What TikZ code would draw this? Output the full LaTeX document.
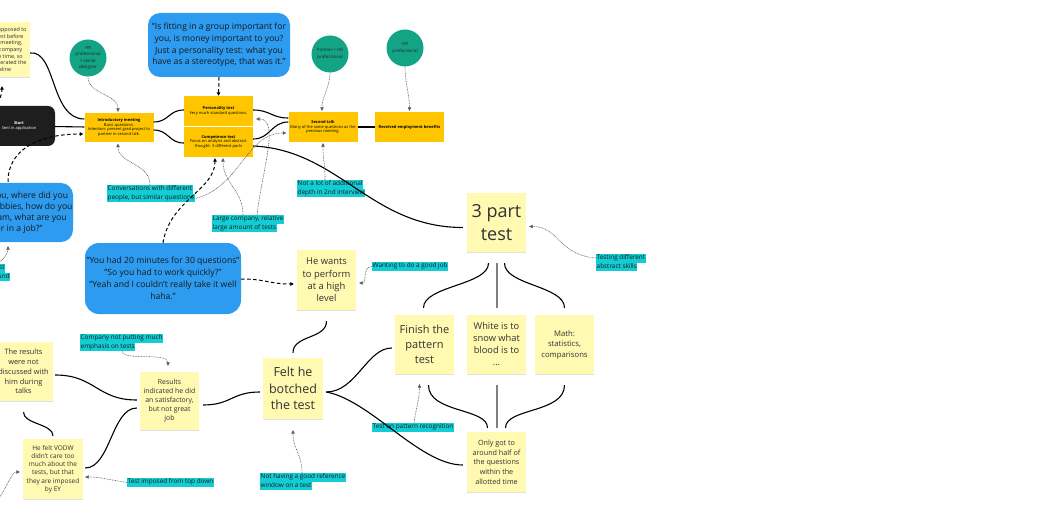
\documentclass[tikz,border=0pt]{standalone}
\usepackage{fontspec}
\setmainfont{Open Sans}
\usetikzlibrary{arrows.meta,calc,shadows}
\definecolor{notey}{RGB}{255,249,177}
\definecolor{notetext}{RGB}{50,50,50}
\definecolor{orangeb}{RGB}{255,198,0}
\definecolor{tealc}{RGB}{18,164,132}
\definecolor{blueb}{RGB}{45,155,240}
\definecolor{labcyan}{RGB}{18,205,212}
\definecolor{startc}{RGB}{30,30,30}
\definecolor{dotgray}{RGB}{90,90,90}
\definecolor{vgray}{RGB}{128,128,128}
\newcommand\fsz[2]{\fontsize{#1}{#2}\selectfont}
\newcommand\hl[1]{\colorbox{labcyan}{\strut #1}}
\newcommand\hltwo[2]{\vbox{\baselineskip=0pt\lineskip=0pt\lineskiplimit=0pt\hbox{\hl{#1}}\hbox{\hl{#2}}}}
\setlength{\fboxsep}{0.5pt}
\tikzset{
  sticky/.style={fill=notey, minimum width=59, minimum height=59, inner sep=0pt, align=center, text=notetext,
    drop shadow={shadow xshift=0.4pt, shadow yshift=-1.2pt, fill=black, opacity=0.12}},
  obox/.style={fill=orangeb, minimum width=69, minimum height=30, inner sep=0pt, align=center, text=black, font=\fsz{4.0}{4.8}},
  greenc/.style={circle, fill=tealc, minimum size=37, inner sep=0pt, align=center, text=black!85, font=\fsz{4.4}{6.5}},
  bubble/.style={rounded corners=12, fill=blueb, inner sep=0pt, align=center, text=black!90},
  lab/.style={anchor=north west, inner sep=0pt, text=black!90, font=\fsz{6.4}{7.5}},
  arr/.style={-{Triangle[length=3.5pt,width=3.5pt]}},
  solc/.style={draw=black, line width=1.1pt},
  grayc/.style={draw=vgray, line width=2pt},
  dashc/.style={draw=black, line width=1pt, dash pattern=on 3.5pt off 2.5pt, arr},
  dotc/.style={draw=dotgray, line width=0.6pt, dash pattern=on 0.8pt off 0.8pt, arr},
}
\begin{document}
\begin{tikzpicture}[x=1pt,y=-1pt]
\useasboundingbox (0,0) rectangle (1054,505);
% ---------- nodes ----------
\node[sticky, minimum width=58, minimum height=55, font=\fsz{5.4}{6.7}] (notetl) at (1,49.5)
  {He was supposed to\\do the test before\\the first meeting,\\but the company\\had little time, so\\they accelerated the\\timeline};
\node[rounded corners=7, fill=startc, minimum width=72, minimum height=40, inner sep=0pt, align=center, text=white, font=\fsz{4.0}{5.6}] (start) at (19,126)
  {\textbf{Start}\\Sent in application};
\node[obox, minimum height=29] (intro) at (119,127.5)
  {\textbf{Introductory meeting}\\Basic questions.\\Intention: present grad project to\\partner in second talk.};
\node[greenc] (hrA) at (88,58) {HR\\professional\\+ senior\\designer};
\node[bubble, minimum width=142, minimum height=64, font=\fsz{8.6}{11.6}] (qtop) at (219,45)
  {"Is fitting in a group important for\\you, is money important to you?\\Just a personality test: what you\\have as a stereotype, that was it."};
\node[obox] (pers) at (218.5,111) {\textbf{Personality test}\\Very much standard questions.};
\node[obox] (comp) at (218.5,142) {\textbf{Competence test}\\Focus on analysis and abstract\\thought: 3 different parts};
\node[greenc] (hrB) at (330,54) {Partner + HR\\professional};
\node[obox] (second) at (323,127) {\textbf{Second talk}\\Many of the same questions as the\\previous meeting.};
\node[greenc] (hrC) at (405,48) {HR\\professional};
\node[obox] (received) at (409.5,127) {\textbf{Received employment benefits}};
\node[bubble, minimum width=142, minimum height=59, font=\fsz{8.6}{11}] (qleft) at (2,212.5)
  {"Tell us about you, where did you\\what are your hobbies, how do you\\function in a team, what are you\\looking for in a job?"};
\node[bubble, rounded corners=14, minimum width=156, minimum height=71, font=\fsz{8.6}{12}] (qmid) at (163,278.5)
  {"You had 20 minutes for 30 questions"\\"So you had to work quickly?"\\"Yeah and I couldn't really take it well\\haha."};
\node[sticky, font=\fsz{18}{23}] (three) at (496.5,222.5) {3 part\\test};
\node[sticky, minimum height=60, font=\fsz{9.4}{12.3}] (heWants) at (326.5,280) {He wants\\to perform\\at a high\\level};
\node[sticky, font=\fsz{11}{15}] (finish) at (424.5,344.5) {Finish the\\pattern\\test};
\node[sticky, font=\fsz{9.3}{12}] (white) at (496.5,344.5) {White is to\\snow what\\blood is to\\...};
\node[sticky, font=\fsz{7.7}{10.5}] (math) at (564.5,344.5) {Math:\\statistics,\\comparisons};
\node[sticky, minimum height=60, font=\fsz{7.2}{9.7}] (onlyGot) at (496.5,462) {Only got to\\around half of\\the questions\\within the\\allotted time};
\node[sticky, minimum width=60, minimum height=61, font=\fsz{12.5}{16.5}] (felt) at (293,388.5) {Felt he\\botched\\the test};
\node[sticky, minimum height=58, font=\fsz{6.9}{9.1}] (results) at (169.5,401) {Results\\indicated he did\\an satisfactory,\\but not great\\job};
\node[sticky, font=\fsz{7.4}{9.8}] (theResults) at (23.5,371.5) {The results\\were not\\discussed with\\him during\\talks};
\node[sticky, minimum width=60, minimum height=60, font=\fsz{6.5}{8.2}] (heFelt) at (53,469) {He felt VODW\\didn't care too\\much about the\\tests, but that\\they are imposed\\by EY};
% labels
\node[lab] (lconv) at (107,185) {\hltwo{Conversations with different}{people, but similar questions}};
\node[lab] (llarge) at (212,215) {\hltwo{Large company, relative}{large amount of tests}};
\node[lab] (lnotalot) at (297,180) {\hltwo{Not a lot of additional}{depth in 2nd interview}};
\node[lab] (lwant) at (372,262) {\hl{Wanting to do a good job}};
\node[lab] (ltest) at (596,254) {\hltwo{Testing different}{abstract skills}};
\node[lab] (lcompany) at (80,334) {\hltwo{Company not putting much}{emphasis on tests}};
\node[lab] (ltestOn) at (372,423) {\hl{Test on pattern recognition}};
\node[lab] (lnothaving) at (260,473) {\hltwo{Not having a good reference}{window on a test}};
\node[lab] (limposed) at (127,478) {\hl{Test imposed from top down}};
\node[lab] (lfrag) at (-44,264) {\hltwo{General interest}{in his background}};
\coordinate (tlfrom) at (-6,108);
\coordinate (blfrom) at (-2,500);
% ---------- solid connectors ----------
\draw[solc] ($(notetl.east)+(0,3.5)$) .. controls +(26,-3) and +(-34,0) .. ($(intro.west)+(0,-8.5)$);
\draw[solc] (start) -- (intro);
\draw[solc] ($(intro.east)+(0,-5.5)$) .. controls +(15,0) and +(-15,0) .. ($(pers.west)+(0,-1)$);
\draw[solc] ($(intro.east)+(0,2.5)$) .. controls +(15,0) and +(-15,0) .. ($(comp.west)+(0,1)$);
\draw[solc] ($(pers.east)+(0,-1)$) .. controls +(17,0) and +(-17,0) .. ($(second.west)+(0,-9)$);
\draw[solc] ($(comp.east)+(0,-3)$) .. controls +(17,0) and +(-17,0) .. ($(second.west)+(0,-5)$);
\draw[solc] ($(comp.east)+(0,4)$) .. controls +(86,4) and +(-92,0) .. ($(three.west)+(-4,5)$);
\draw[solc] (second) -- (received);
\draw[solc] ($(three.south)+(-8,11)$) .. controls +(0,22) and +(0,-22) .. ($(finish.north)+(-1,-7)$);
\draw[grayc] ($(three.south)+(0,11)$) -- ($(white.north)+(0,-7)$);
\draw[solc] ($(three.south)+(8,11)$) .. controls +(0,22) and +(0,-22) .. ($(math.north)+(0,-7)$);
\draw[solc] ($(finish.south)+(4,11)$) .. controls +(0,28) and +(0,-20) .. ($(onlyGot.north)+(-9,-4)$);
\draw[grayc] ($(white.south)+(0,11)$) -- ($(onlyGot.north)+(0,-4)$);
\draw[solc] ($(math.south)+(0,11)$) .. controls +(0,28) and +(0,-20) .. ($(onlyGot.north)+(9,-4)$);
\draw[solc] ($(heWants.south)+(0,11)$) .. controls +(0,18) and +(0,-18) .. ($(felt.north)+(0,-5)$);
\draw[solc] ($(felt.east)+(3,3.5)$) .. controls +(30,0) and +(-25,0) .. ($(finish.west)+(-3,3.5)$);
\draw[solc] ($(felt.east)+(3,3.5)$) .. controls +(44,8) and +(-43,0) .. ($(onlyGot.west)+(-4,3)$);
\draw[solc] ($(results.east)+(4,4)$) .. controls +(28,0) and +(-28,0) .. ($(felt.west)+(-3,3.5)$);
\draw[solc] ($(theResults.east)+(2,3.5)$) .. controls +(40,0) and +(-40,0) .. ($(results.west)+(-3,-1)$);
\draw[solc] ($(results.west)+(-3,7)$) .. controls +(-25,0) and +(25,0) .. ($(heFelt.east)+(2,-1)$);
\draw[solc] ($(theResults.south)+(0,11)$) .. controls +(0,12) and +(0,-12) .. ($(heFelt.north)+(0,-3)$);
% ---------- dashed connectors ----------
\draw[dashc] (qtop.south) -- (pers.north);
\draw[dashc] ($(qleft.north)+(6,-1)$) .. controls +(0,-35) and +(-40,0) .. ($(intro.west)+(-1,6.5)$);
\draw[dashc] (qmid.north) .. controls +(7,-43) and +(0,32) .. ($(comp.south)+(-3.5,1)$);
\draw[dashc] ($(qmid.east)+(0,0.5)$) .. controls +(25,0) and +(-25,0) .. ($(heWants.west)+(-3,4)$);
\draw[dashc] (tlfrom) .. controls +(6,-8) and +(0,8) .. ($(notetl.south)+(1,9)$);
% ---------- dotted connectors ----------
\draw[dotc] (hrA.south) .. controls +(0,18) and +(0,-18) .. ($(intro.north)+(-1,-1)$);
\draw[dotc] (hrB.south) .. controls +(0,15) and +(0,-15) .. ($(second.north)+(-1,-1)$);
\draw[dotc] (hrC.south) .. controls +(0,15) and +(0,-15) .. ($(received.north)+(0,-1)$);
\draw[dotc] ($(lconv.north west)+(43,0)$) .. controls +(0,-22) and +(0,20) .. ($(intro.south)+(-1,1.5)$);
\draw[dotc] ($(lconv.south east)+(1,-4)$) .. controls +(45,-12) and +(-40,0) .. ($(second.west)+(-2,6)$);
\draw[dotc] ($(llarge.north west)+(31,0)$) .. controls +(0,-25) and +(0,25) .. ($(comp.south)+(4.5,1)$);
\draw[dotc] ($(llarge.north west)+(45,0)$) .. controls +(5,-44) and +(24,0) .. ($(pers.east)+(3,8)$);
\draw[dotc] ($(lnotalot.north west)+(28,0)$) .. controls +(0,-18) and +(0,18) .. ($(second.south)+(0,1)$);
\draw[dotc] (lwant.west) .. controls +(-10,0) and +(8,0) .. ($(heWants.east)+(3,3)$);
\draw[dotc] ($(ltest.north west)+(0,4)$) .. controls +(-38,-3) and +(30,0) .. ($(three.east)+(3,4)$);
\draw[dotc] ($(lcompany.south west)+(42,0)$) .. controls +(2,10) and +(0,-14) .. ($(results.north)+(-1.5,-6)$);
\draw[dotc] ($(ltestOn.north west)+(42,0)$) .. controls +(2,-15) and +(0,15) .. ($(finish.south)+(-5,10)$);
\draw[dotc] ($(lnothaving.north west)+(42,0)$) .. controls +(0,-20) and +(0,20) .. ($(felt.south)+(0,11)$);
\draw[dotc] (limposed.west) .. controls +(-20,-3) and +(15,0) .. ($(heFelt.east)+(2,8)$);
\draw[dotc] (blfrom) .. controls +(10,-15) and +(-8,0) .. ($(heFelt.west)+(-3,3)$);
\draw[dotc] ($(lfrag.north east)+(-12,-1)$) .. controls +(6,-4) and +(0,6) .. ($(qleft.south)+(6,4)$);
\end{tikzpicture}
\end{document}
